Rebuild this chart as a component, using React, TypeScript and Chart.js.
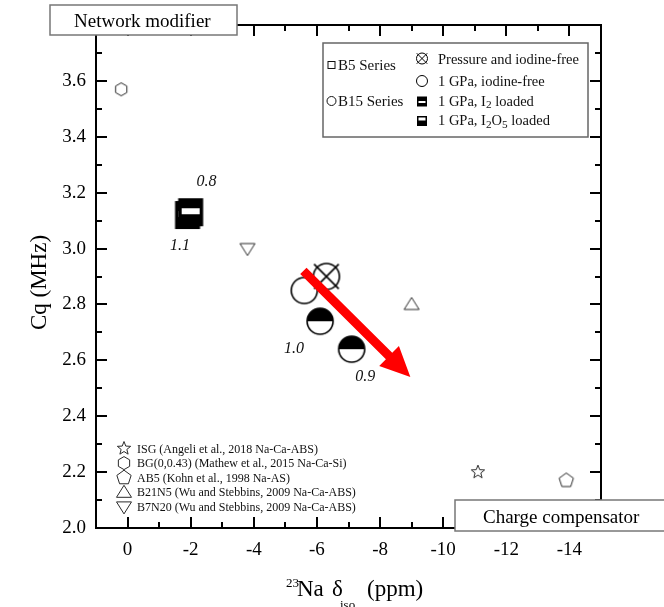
import React, { useEffect, useRef } from 'react';
import { Chart, registerables } from 'chart.js';

Chart.register(...registerables);

const SERIF = "'Liberation Serif', 'Times New Roman', serif";

// ---------------- data ----------------
const literatureLabels = [
  'ISG (Angeli et al., 2018 Na-Ca-ABS)',
  'BG(0,0.43) (Mathew et al., 2015 Na-Ca-Si)',
  'AB5 (Kohn et al., 1998 Na-AS)',
  'B21N5 (Wu and Stebbins, 2009 Na-Ca-ABS)',
  'B7N20 (Wu and Stebbins, 2009 Na-Ca-ABS)',
];
const literatureShapes = ['star', 'hexagon', 'pentagon', 'triangleUp', 'triangleDown'];
const literatureX = [-11.1, 0.2, -13.9, -9.0, -3.8];
const literatureY = [2.2, 3.57, 2.17, 2.8, 3.0];

// B5 series (1 GPa, I2 loaded), two overlapping samples
const b5X = [-1.9, -2.0];
const b5Y = [3.12, 3.13];

// B15 series
const b15Labels = ['Pressure and iodine-free', '1 GPa, iodine-free', '1 GPa, I2 loaded', '1 GPa, I2O5 loaded'];
const b15Shapes = ['crossed', 'open', 'halfTop', 'halfTop'];
const b15X = [-6.3, -5.6, -6.1, -7.1];
const b15Y = [2.9, 2.85, 2.74, 2.64];

// ratio annotations
const ratioLabels = ['0.8', '1.1', '1.0', '0.9'];
const ratioX = [-2.5, -1.66, -5.27, -7.53];
const ratioY = [3.24, 3.01, 2.64, 2.54];

// trend arrow (data coordinates)
const arrowFrom = [-5.57, 2.92];
const arrowTo = [-8.96, 2.54];

// axes
const X_MIN = -15;
const X_MAX = 1;
const Y_MIN = 2.0;
const Y_MAX = 3.8;
const xMajorTicks = [0, -2, -4, -6, -8, -10, -12, -14];
const xMinorTicks = [-1, -3, -5, -7, -9, -11, -13];
const yMajorTicks = [2.0, 2.2, 2.4, 2.6, 2.8, 3.0, 3.2, 3.4, 3.6];
const yMinorTicks = [2.1, 2.3, 2.5, 2.7, 2.9, 3.1, 3.3, 3.5, 3.7];

// ---------------- marker helpers ----------------
type G = CanvasRenderingContext2D;

function makeCanvas(w: number, h: number, draw: (g: G) => void) {
  const c = document.createElement('canvas');
  c.width = w;
  c.height = h;
  const g = c.getContext('2d') as G;
  g.translate(w / 2, h / 2);
  draw(g);
  return c;
}

function polyPath(g: G, n: number, r: number, rot = -Math.PI / 2) {
  g.beginPath();
  for (let i = 0; i < n; i++) {
    const a = rot + (i * 2 * Math.PI) / n;
    const px = Math.cos(a) * r;
    const py = Math.sin(a) * r;
    if (i === 0) g.moveTo(px, py);
    else g.lineTo(px, py);
  }
  g.closePath();
}

function starPath(g: G, ro: number, ri: number) {
  g.beginPath();
  for (let i = 0; i < 10; i++) {
    const r = i % 2 === 0 ? ro : ri;
    const a = -Math.PI / 2 + (i * Math.PI) / 5;
    const px = Math.cos(a) * r;
    const py = Math.sin(a) * r;
    if (i === 0) g.moveTo(px, py);
    else g.lineTo(px, py);
  }
  g.closePath();
}

function shapePath(g: G, shape: string) {
  switch (shape) {
    case 'star':
      starPath(g, 7, 3);
      break;
    case 'hexagon':
      polyPath(g, 6, 6.5);
      break;
    case 'pentagon':
      polyPath(g, 5, 7.5);
      break;
    case 'triangleUp':
      g.beginPath();
      g.moveTo(0, -7);
      g.lineTo(7.5, 5);
      g.lineTo(-7.5, 5);
      g.closePath();
      break;
    case 'triangleDown':
    default:
      g.beginPath();
      g.moveTo(0, 7);
      g.lineTo(7.5, -5);
      g.lineTo(-7.5, -5);
      g.closePath();
      break;
  }
}

function drawLitShape(g: G, shape: string) {
  g.save();
  g.strokeStyle = '#2a2a2a';
  g.fillStyle = '#ffffff';
  g.lineWidth = 1;
  shapePath(g, shape);
  g.fill();
  g.stroke();
  g.restore();
}

function litMarker(shape: string) {
  return makeCanvas(20, 20, (g) => drawLitShape(g, shape));
}

function drawBigCircle(g: G, kind: string, r: number, lw: number) {
  g.save();
  g.strokeStyle = '#000';
  g.lineWidth = lw;
  if (kind === 'halfTop') {
    g.beginPath();
    g.arc(0, 0, r, 0, Math.PI * 2);
    g.fillStyle = '#fff';
    g.fill();
    g.beginPath();
    g.arc(0, 0, r, Math.PI, Math.PI * 2);
    g.closePath();
    g.fillStyle = '#000';
    g.fill();
  }
  g.beginPath();
  g.arc(0, 0, r, 0, Math.PI * 2);
  g.stroke();
  if (kind === 'crossed') {
    const e = r * 0.95;
    g.beginPath();
    g.moveTo(-e, -e);
    g.lineTo(e, e);
    g.moveTo(e, -e);
    g.lineTo(-e, e);
    g.stroke();
  }
  g.restore();
}

function bigCircleMarker(kind: string) {
  return makeCanvas(36, 36, (g) => drawBigCircle(g, kind, 13, 1.6));
}

function b5Marker() {
  return makeCanvas(30, 32, (g) => {
    g.fillStyle = '#000';
    g.fillRect(-12.5, -14, 25, 28);
    g.fillStyle = '#fff';
    g.fillRect(-9, -4, 18, 6);
  });
}

function drawParts(
  ctx: G,
  parts: Array<[string, 'n' | 'sub' | 'sup']>,
  x: number,
  y: number,
  size: number,
) {
  let cx = x;
  ctx.textAlign = 'left';
  ctx.textBaseline = 'alphabetic';
  for (const [t, k] of parts) {
    const s = k === 'n' ? size : size * 0.78;
    const dy = k === 'sub' ? size * 0.2 : k === 'sup' ? -size * 0.4 : 0;
    ctx.font = `${s}px ${SERIF}`;
    ctx.fillText(t, cx, y + dy);
    cx += ctx.measureText(t).width;
  }
}

export default function App() {
  const ref = useRef<HTMLCanvasElement>(null);

  useEffect(() => {
    const canvas = ref.current;
    if (!canvas) return;

    const litCanvases = literatureShapes.map((s) => litMarker(s));
    const b15Canvases = b15Shapes.map((s) => bigCircleMarker(s));
    const b5Canvas = b5Marker();

    const overlay = {
      id: 'overlay',
      afterDatasetsDraw(chart: any) {
        const ctx: G = chart.ctx;
        const xs = chart.scales.x;
        const ys = chart.scales.y;
        // arrow
        const x1 = xs.getPixelForValue(arrowFrom[0]);
        const y1 = ys.getPixelForValue(arrowFrom[1]);
        const x2 = xs.getPixelForValue(arrowTo[0]);
        const y2 = ys.getPixelForValue(arrowTo[1]);
        const ang = Math.atan2(y2 - y1, x2 - x1);
        const c = Math.cos(ang);
        const s = Math.sin(ang);
        const headLen = 30;
        const headW = 14;
        const shaftW = 4.5;
        const bx = x2 - headLen * c;
        const by = y2 - headLen * s;
        const nx = -s;
        const ny = c;
        ctx.save();
        ctx.fillStyle = '#ff0000';
        ctx.beginPath();
        ctx.moveTo(x1 + nx * shaftW, y1 + ny * shaftW);
        ctx.lineTo(bx + nx * shaftW, by + ny * shaftW);
        ctx.lineTo(bx + nx * headW, by + ny * headW);
        ctx.lineTo(x2, y2);
        ctx.lineTo(bx - nx * headW, by - ny * headW);
        ctx.lineTo(bx - nx * shaftW, by - ny * shaftW);
        ctx.lineTo(x1 - nx * shaftW, y1 - ny * shaftW);
        ctx.closePath();
        ctx.fill();
        // ratio labels
        ctx.fillStyle = '#111';
        ctx.font = `italic 16px ${SERIF}`;
        ctx.textAlign = 'center';
        ctx.textBaseline = 'middle';
        ratioLabels.forEach((t, i) => {
          ctx.fillText(t, xs.getPixelForValue(ratioX[i]), ys.getPixelForValue(ratioY[i]));
        });
        ctx.restore();
      },
      afterDraw(chart: any) {
        const ctx: G = chart.ctx;
        const xs = chart.scales.x;
        const ys = chart.scales.y;
        const { left, right, top, bottom } = chart.chartArea;
        ctx.save();
        // frame
        ctx.strokeStyle = '#000';
        ctx.lineWidth = 2;
        ctx.strokeRect(left, top, right - left, bottom - top);
        // inward ticks on all four sides
        const tickX = (v: number, len: number) => {
          const p = Math.round(xs.getPixelForValue(v));
          ctx.beginPath();
          ctx.moveTo(p, bottom);
          ctx.lineTo(p, bottom - len);
          ctx.moveTo(p, top);
          ctx.lineTo(p, top + len);
          ctx.stroke();
        };
        const tickY = (v: number, len: number) => {
          const p = Math.round(ys.getPixelForValue(v));
          ctx.beginPath();
          ctx.moveTo(left, p);
          ctx.lineTo(left + len, p);
          ctx.moveTo(right, p);
          ctx.lineTo(right - len, p);
          ctx.stroke();
        };
        xMajorTicks.forEach((v) => tickX(v, 11));
        xMinorTicks.forEach((v) => tickX(v, 6));
        yMajorTicks.forEach((v) => tickY(v, 11));
        yMinorTicks.forEach((v) => tickY(v, 6));

        // axis titles
        ctx.fillStyle = '#000';
        ctx.save();
        ctx.translate(40, (top + bottom) / 2 + 6);
        ctx.rotate(-Math.PI / 2);
        ctx.font = `23px ${SERIF}`;
        ctx.textAlign = 'center';
        ctx.textBaseline = 'middle';
        ctx.fillText('Cq (MHz)', 0, 0);
        ctx.restore();

        ctx.textAlign = 'left';
        ctx.textBaseline = 'alphabetic';
        ctx.font = `13px ${SERIF}`;
        ctx.fillText('23', 286, 587);
        ctx.font = `23px ${SERIF}`;
        ctx.fillText('Na', 297, 596);
        ctx.fillText('\u03b4', 332, 596);
        ctx.font = `13px ${SERIF}`;
        ctx.fillText('iso', 340, 609);
        ctx.font = `23px ${SERIF}`;
        ctx.fillText('(ppm)', 367, 596);

        // bottom-left legend (literature)
        const legRow0 = 448.5;
        const legStep = 14.6;
        literatureLabels.forEach((t, i) => {
          const cy = legRow0 + i * legStep;
          ctx.save();
          ctx.translate(124, cy);
          drawLitShape(ctx, literatureShapes[i]);
          ctx.restore();
          ctx.fillStyle = '#111';
          ctx.font = `12px ${SERIF}`;
          ctx.textAlign = 'left';
          ctx.textBaseline = 'alphabetic';
          ctx.fillText(t, 137, cy + 4);
        });

        // top-right legend box
        ctx.fillStyle = '#fff';
        ctx.strokeStyle = '#666';
        ctx.lineWidth = 1.5;
        ctx.strokeRect(323, 43, 265, 94);
        ctx.fillStyle = '#111';
        ctx.strokeStyle = '#111';
        ctx.lineWidth = 1;
        // B5 series: small open square
        ctx.strokeRect(328, 61.5, 7, 7);
        drawParts(ctx, [['B5 Series', 'n']], 338, 69.5, 15);
        // B15 series: small open circle
        ctx.beginPath();
        ctx.arc(331.5, 101, 4.5, 0, Math.PI * 2);
        ctx.stroke();
        drawParts(ctx, [['B15 Series', 'n']], 338, 105.5, 15);
        // right column
        const symX = 422;
        const rowsY = [58.5, 81, 101.5, 121];
        ctx.save();
        ctx.translate(symX, rowsY[0]);
        drawBigCircle(ctx, 'crossed', 5.5, 1);
        ctx.restore();
        ctx.save();
        ctx.translate(symX, rowsY[1]);
        drawBigCircle(ctx, 'open', 5.5, 1);
        ctx.restore();
        // I2 loaded square
        ctx.fillStyle = '#000';
        ctx.fillRect(symX - 5, rowsY[2] - 5, 10, 10);
        ctx.fillStyle = '#fff';
        ctx.fillRect(symX - 3.5, rowsY[2] - 0.5, 7, 2);
        // I2O5 loaded square
        ctx.fillStyle = '#000';
        ctx.fillRect(symX - 5, rowsY[3] - 5, 10, 10);
        ctx.fillStyle = '#fff';
        ctx.fillRect(symX - 3.5, rowsY[3] - 3.5, 7, 3);
        ctx.fillStyle = '#111';
        drawParts(ctx, [['Pressure and iodine-free', 'n']], 438, rowsY[0] + 5, 14.5);
        drawParts(ctx, [['1 GPa, iodine-free', 'n']], 438, rowsY[1] + 5, 14.5);
        drawParts(ctx, [['1 GPa, I', 'n'], ['2', 'sub'], [' loaded', 'n']], 438, rowsY[2] + 4, 14.5);
        drawParts(ctx, [['1 GPa, I', 'n'], ['2', 'sub'], ['O', 'n'], ['5', 'sub'], [' loaded', 'n']], 438, rowsY[3] + 4, 14.5);

        // corner boxes
        const box = (bx: number, by: number, bw: number, bh: number, text: string, tx: number, ty: number) => {
          ctx.fillStyle = '#fff';
          ctx.fillRect(bx, by, bw, bh);
          ctx.strokeStyle = '#777';
          ctx.lineWidth = 1.5;
          ctx.strokeRect(bx, by, bw, bh);
          ctx.fillStyle = '#000';
          ctx.font = `19px ${SERIF}`;
          ctx.textAlign = 'left';
          ctx.textBaseline = 'alphabetic';
          ctx.fillText(text, tx, ty);
        };
        box(50, 5, 187, 30, 'Network modifier', 74, 27);
        box(455, 500, 215, 31, 'Charge compensator', 483, 523);
        ctx.restore();
      },
    };

    const tickFont = { family: SERIF, size: 19 };

    const chart = new Chart(canvas, {
      type: 'scatter',
      data: {
        datasets: [
          {
            label: 'B5 Series',
            data: b5X.map((x, i) => ({ x, y: b5Y[i] })),
            pointStyle: b5Canvas as any,
            pointRadius: 13,
          },
          {
            label: 'B15 Series',
            data: b15X.map((x, i) => ({ x, y: b15Y[i] })),
            pointStyle: b15Canvases as any,
            pointRadius: 13,
          },
          {
            label: 'Literature',
            data: literatureX.map((x, i) => ({ x, y: literatureY[i] })),
            pointStyle: litCanvases as any,
            pointRadius: 8,
          },
        ],
      },
      options: {
        animation: false,
        responsive: false,
        devicePixelRatio: 1,
        events: [],
        layout: { padding: { top: 25, right: 63, bottom: 0, left: 0 } },
        plugins: {
          legend: { display: false },
          tooltip: { enabled: false },
        },
        scales: {
          x: {
            type: 'linear',
            min: X_MIN,
            max: X_MAX,
            reverse: true,
            afterBuildTicks: (s: any) => {
              s.ticks = xMajorTicks.map((v) => ({ value: v }));
            },
            afterFit: (s: any) => {
              s.height = 79;
              s.paddingLeft = 0;
              s.paddingRight = 0;
            },
            ticks: {
              callback: (v: any) => String(v),
              font: tickFont,
              color: '#000',
              padding: 11,
              maxRotation: 0,
              autoSkip: false,
            },
            grid: { display: false, drawTicks: false },
            border: { display: false },
          },
          y: {
            type: 'linear',
            min: Y_MIN,
            max: Y_MAX,
            afterBuildTicks: (s: any) => {
              s.ticks = yMajorTicks.map((v) => ({ value: v }));
            },
            afterFit: (s: any) => {
              s.width = 96;
              s.paddingTop = 0;
              s.paddingBottom = 0;
            },
            ticks: {
              callback: (v: any) => Number(v).toFixed(1),
              font: tickFont,
              color: '#000',
              padding: 10,
              autoSkip: false,
            },
            grid: { display: false, drawTicks: false },
            border: { display: false },
          },
        },
      },
      plugins: [overlay],
    });

    return () => chart.destroy();
  }, []);

  return (
    <div style={{ position: 'absolute', left: 0, top: 0, width: 664, height: 607, background: '#fff' }}>
      <canvas ref={ref} width={664} height={607} style={{ display: 'block', width: 664, height: 607 }} />
    </div>
  );
}
